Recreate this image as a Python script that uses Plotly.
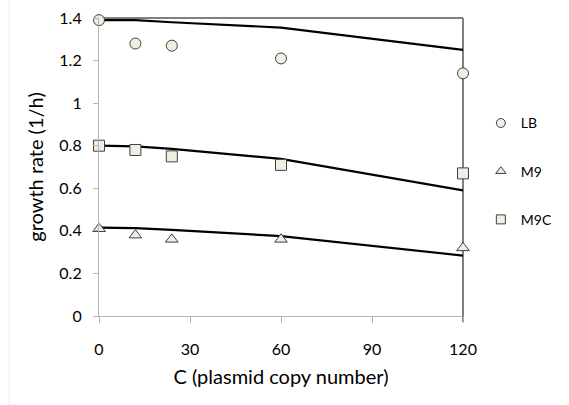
import plotly.graph_objects as go

# Plasmid copy number (x) and measured / modelled growth rates (1/h)
copy_number = [0, 12, 24, 60, 120]

lb_measured = [1.39, 1.28, 1.27, 1.21, 1.14]
m9_measured = [0.41, 0.38, 0.36, 0.36, 0.32]
m9c_measured = [0.80, 0.78, 0.75, 0.71, 0.67]

lb_model = [1.39, 1.39, 1.38, 1.355, 1.25]
m9_model = [0.415, 0.413, 0.405, 0.375, 0.284]
m9c_model = [0.80, 0.797, 0.785, 0.738, 0.59]

series_names = ["LB", "M9", "M9C"]
series_symbols = ["circle", "triangle-up", "square"]

x_ticks = [0, 30, 60, 90, 120]
y_ticks = [0, 0.2, 0.4, 0.6, 0.8, 1.0, 1.2, 1.4]

FONT = "Lato, Open Sans, sans-serif"
MARKER_FILL = "#EEEEE3"
MARKER_EDGE = "#404040"

fig = go.Figure()

# model curves
for model in (lb_model, m9_model, m9c_model):
    fig.add_trace(go.Scatter(
        x=copy_number, y=model, mode="lines",
        line=dict(color="black", width=2.2),
        showlegend=False, hoverinfo="skip", cliponaxis=False,
    ))

# measured points
for name, sym, vals in zip(series_names, series_symbols,
                           (lb_measured, m9_measured, m9c_measured)):
    fig.add_trace(go.Scatter(
        x=copy_number, y=vals, mode="markers", name=name,
        marker=dict(symbol=sym, size=11, color=MARKER_FILL,
                    line=dict(color=MARKER_EDGE, width=1)),
        showlegend=False, cliponaxis=False,
    ))

# legend entries with smaller symbols
for i, (name, sym) in enumerate(zip(series_names, series_symbols)):
    fig.add_trace(go.Scatter(
        x=[None], y=[None], mode="markers", name=name,
        legendgroup=f"g{i}",
        marker=dict(symbol=sym, size=9, color=MARKER_FILL,
                    line=dict(color=MARKER_EDGE, width=1)),
    ))

fig.update_layout(
    width=569, height=405,
    margin=dict(l=99, r=106, t=18, b=88.5, autoexpand=False),
    paper_bgcolor="white", plot_bgcolor="white",
    font=dict(family=FONT, size=16, color="black"),
    legend=dict(
        x=1.049, xanchor="left", y=0.7, yanchor="top",
        xref="paper",
        font=dict(size=14, family=FONT),
        tracegroupgap=27, itemwidth=30,
        bgcolor="rgba(0,0,0,0)",
    ),
    xaxis=dict(
        range=[0, 120], tickvals=x_ticks, ticktext=[str(v) for v in x_ticks],
        showgrid=False, zeroline=False,
        showline=True, linecolor="#b4b4b4", linewidth=1.2,
        ticks="outside", ticklen=6, tickcolor="#b4b4b4", tickwidth=1,
        ticklabelstandoff=13,
        tickfont=dict(size=16),
        title=dict(text="C (plasmid copy number)", font=dict(size=20), standoff=12),
    ),
    yaxis=dict(
        range=[0, 1.4], tickvals=y_ticks,
        ticktext=["0", "0.2", "0.4", "0.6", "0.8", "1", "1.2", "1.4"],
        showgrid=False, zeroline=False,
        showline=True, linecolor="#b4b4b4", linewidth=1.2,
        ticks="outside", ticklen=5, tickcolor="#b4b4b4", tickwidth=1,
        ticklabelstandoff=8,
        tickfont=dict(size=16),
        title=dict(text="growth rate (1/h)", font=dict(size=20), standoff=10),
    ),
    shapes=[
        # top border of the plot area
        dict(type="line", xref="paper", yref="paper", x0=0, x1=1, y0=1, y1=1,
             line=dict(color="black", width=1.2), layer="below"),
        # right border of the plot area
        dict(type="line", xref="paper", yref="paper", x0=1, x1=1, y0=-0.02, y1=1,
             line=dict(color="#808080", width=2), layer="below"),
    ],
)

# faint outer frame of the chart area
fig.add_shape(type="line", xref="paper", yref="paper",
              x0=-90 / 364, x1=-90 / 364, y0=-0.3, y1=1.06,
              line=dict(color="#eeeeee", width=1))

fig.write_html("out.html")
